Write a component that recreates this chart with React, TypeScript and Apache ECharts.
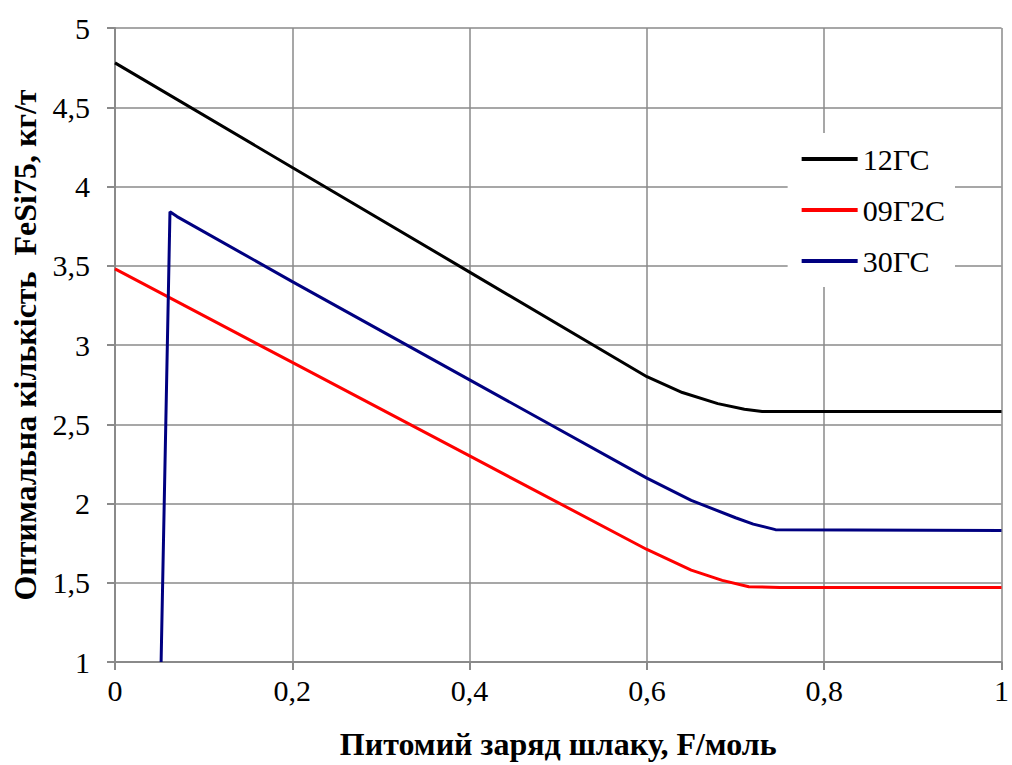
import React, { useEffect, useRef } from "react";
import * as echarts from "echarts";

const seriesNames = ["12ГС", "09Г2С", "30ГС"];
const seriesColors = ["#000000", "#ff0000", "#000080"];
const black12GS: [number, number][] = [
  [0, 4.78], [0.2, 4.12], [0.4, 3.46], [0.6, 2.8], [0.64, 2.7], [0.68, 2.63],
  [0.71, 2.595], [0.73, 2.58], [1, 2.58],
];
const red09G2S: [number, number][] = [
  [0, 3.48], [0.2, 2.89], [0.4, 2.3], [0.6, 1.71], [0.65, 1.58], [0.685, 1.515],
  [0.715, 1.475], [0.75, 1.47], [1, 1.47],
];
const blue30GS: [number, number][] = [
  [0.052, 1], [0.062, 3.84], [0.07, 3.81], [0.2, 3.4], [0.4, 2.78], [0.6, 2.16],
  [0.65, 2.02], [0.7, 1.91], [0.72, 1.87], [0.745, 1.835], [1, 1.83],
];
const xTitle = "Питомий заряд шлаку, F/моль";
const yTitle = "Оптимальна кількість  FeSi75, кг/т";

export default function App() {
  const ref = useRef<HTMLDivElement>(null);
  useEffect(() => {
    document.body.style.margin = "0";
    const chart = echarts.init(ref.current!, null, { renderer: "svg" });
    const font = "Liberation Serif";
    const data = [black12GS, red09G2S, blue30GS];
    const gray = "#8a8a8a";
    chart.setOption({
      animation: false,
      backgroundColor: "#ffffff",
      textStyle: { fontFamily: font },
      grid: { left: 115, right: 9, top: 28, bottom: 100 },
      legend: {
        orient: "vertical",
        right: 57,
        top: 133,
        backgroundColor: "#ffffff",
        padding: [11, 10, 11, 14],
        itemGap: 21,
        itemWidth: 56,
        itemHeight: 4,
        icon: "rect",
        textStyle: { fontFamily: font, fontSize: 30, color: "#000" },
        data: seriesNames,
      },
      xAxis: {
        type: "value",
        min: 0,
        max: 1,
        interval: 0.2,
        name: xTitle,
        nameLocation: "middle",
        nameGap: 66,
        nameTextStyle: { fontFamily: font, fontSize: 32, fontWeight: "bold", color: "#000" },
        axisLine: { lineStyle: { color: gray, width: 2 } },
        axisTick: { show: true, length: 8, lineStyle: { color: gray, width: 2 } },
        axisLabel: {
          fontFamily: font, fontSize: 30, color: "#000", margin: 13,
          formatter: (v: number) => String(Math.round(v * 10) / 10).replace(".", ","),
        },
        splitLine: { show: true, lineStyle: { color: gray, width: 1.5 } },
      },
      yAxis: {
        type: "value",
        min: 1,
        max: 5,
        interval: 0.5,
        name: yTitle,
        nameLocation: "middle",
        nameGap: 74,
        nameTextStyle: { fontFamily: font, fontSize: 32, fontWeight: "bold", color: "#000" },
        axisLine: { show: true, lineStyle: { color: gray, width: 2 } },
        axisTick: { show: true, length: 8, lineStyle: { color: gray, width: 2 } },
        axisLabel: {
          fontFamily: font, fontSize: 30, color: "#000", margin: 25,
          formatter: (v: number) => String(v).replace(".", ","),
        },
        splitLine: { show: true, lineStyle: { color: gray, width: 1.5 } },
      },
      series: seriesNames.map((n, i) => ({
        name: n,
        type: "line",
        data: data[i],
        showSymbol: false,
        symbol: "none",
        color: seriesColors[i],
        lineStyle: { color: seriesColors[i], width: 3 },
        z: 3,
      })),
    });
    return () => chart.dispose();
  }, []);
  return <div ref={ref} style={{ width: 1012, height: 765 }} />;
}
